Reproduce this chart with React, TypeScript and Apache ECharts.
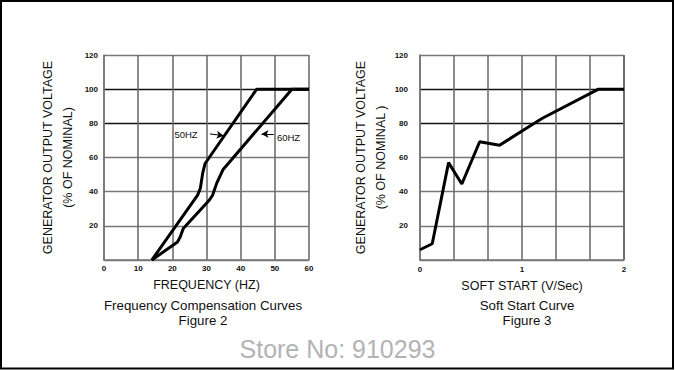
import React, { useEffect, useRef } from "react";
import * as echarts from "echarts";

// Figure 2: Frequency compensation curves (Hz, % of nominal)
const freq50: [number, number][] = [
  [14, 0], [27.4, 38], [28.2, 42], [28.9, 51], [29.6, 56.5], [30.8, 60], [44.7, 100], [60, 100],
];
const freq60: [number, number][] = [
  [14, 0], [21.5, 10.5], [22.3, 13.5], [23.2, 18.5], [30.8, 35], [31.8, 38], [33, 45], [34.8, 52.8], [55, 100], [60, 100],
];
// Figure 3: Soft start curve (V/Sec, % of nominal)
const softStart: [number, number][] = [
  [0, 6], [0.12, 9.5], [0.28, 57], [0.41, 44.5], [0.585, 69.2], [0.78, 67.2], [1.0, 75.5], [1.2, 83], [1.75, 100], [2, 100],
];
const yTicksMax = 120;
const freqMax = 60;
const softMax = 2;
const annot50 = { text: "50HZ", at: [24, 73.2], from: [31, 73.8], to: [35, 72.8] };
const annot60 = { text: "60HZ", at: [54, 71.6], from: [49.7, 73.8], to: [46.1, 73.8] };

const FONT = "'Liberation Sans', Arial, sans-serif";

export default function App() {
  const ref = useRef<HTMLDivElement>(null);
  useEffect(() => {
    document.body.style.margin = "0";
    if (!ref.current) return;
    const chart = echarts.init(ref.current, undefined, { renderer: "svg" });
    const hColors = ["#777", "#777", "#777", "#777", "#111", "#111", "#777"];
    const yAxisBase = (gridIndex: number, margin: number) => ({
      type: "value" as const,
      gridIndex,
      min: 0,
      max: yTicksMax,
      interval: 20,
      name: "GENERATOR OUTPUT VOLTAGE\n" + (gridIndex === 0 ? "(% OF NOMINAL)" : "(% OF NOMINAL )"),
      nameLocation: "middle" as const,
      nameRotate: 90,
      nameGap: 26,
      nameTextStyle: { fontFamily: FONT, fontSize: 12.5, color: "#111", lineHeight: 20 },
      axisLine: { show: true, lineStyle: { color: "#777", width: 1.5 } },
      axisTick: { show: false },
      axisLabel: {
        margin,
        fontFamily: FONT,
        fontSize: 8,
        fontWeight: "bold" as const,
        color: "#111",
        formatter: (v: number) => (v === 0 ? "" : String(v)),
      },
      splitLine: { show: true, lineStyle: { color: hColors, width: 1.4 } },
    });
    const xLabel = {
      fontFamily: FONT,
      fontSize: 8,
      fontWeight: "bold" as const,
      color: "#111",
    };
    chart.setOption({
      animation: false,
      backgroundColor: "#fff",
      grid: [
        { left: 104, width: 205, top: 55, height: 205 },
        { left: 420, width: 204, top: 55, height: 205 },
      ],
      xAxis: [
        {
          type: "value",
          gridIndex: 0,
          min: 0,
          max: freqMax,
          interval: 10,
          name: "FREQUENCY (HZ)",
          nameLocation: "middle",
          nameGap: 18,
          nameTextStyle: { fontFamily: FONT, fontSize: 12.5, color: "#111" },
          axisLine: { show: true, lineStyle: { color: "#777", width: 1.5 } },
          axisTick: { show: false },
          axisLabel: { ...xLabel, margin: 4 },
          splitLine: { show: true, lineStyle: { color: "#666", width: 1.5 } },
        },
        {
          type: "value",
          gridIndex: 1,
          min: 0,
          max: softMax,
          interval: 1 / 3,
          name: "SOFT START (V/Sec)",
          nameLocation: "middle",
          nameGap: 19,
          nameTextStyle: { fontFamily: FONT, fontSize: 12.5, color: "#111" },
          axisLine: { show: true, lineStyle: { color: "#777", width: 1.5 } },
          axisTick: { show: false },
          axisLabel: {
            ...xLabel,
            margin: 5,
            formatter: (v: number) => (Math.abs(v - Math.round(v)) < 1e-3 ? String(Math.round(v)) : ""),
          },
          splitLine: { show: true, lineStyle: { color: "#666", width: 1.5 } },
        },
      ],
      yAxis: [yAxisBase(0, 6), yAxisBase(1, 12)],
      series: [
        {
          type: "line",
          name: "50HZ",
          xAxisIndex: 0,
          yAxisIndex: 0,
          data: freq50,
          showSymbol: false,
          symbol: "none",
          lineStyle: { color: "#000", width: 3 },
          markLine: {
            silent: true,
            symbol: ["none", "arrow"],
            symbolSize: [6, 7],
            label: { show: false },
            lineStyle: { color: "#000", width: 1, type: "solid" },
            data: [[{ coord: annot50.from }, { coord: annot50.to }]],
          },
          markPoint: {
            silent: true,
            symbol: "rect",
            symbolSize: 1,
            itemStyle: { color: "transparent" },
            label: { show: true, position: "inside", fontFamily: FONT, fontSize: 9.5, color: "#111", formatter: annot50.text },
            data: [{ coord: annot50.at }],
          },
        },
        {
          type: "line",
          name: "60HZ",
          xAxisIndex: 0,
          yAxisIndex: 0,
          data: freq60,
          showSymbol: false,
          symbol: "none",
          lineStyle: { color: "#000", width: 3 },
          markLine: {
            silent: true,
            symbol: ["none", "arrow"],
            symbolSize: [6, 7],
            label: { show: false },
            lineStyle: { color: "#000", width: 1, type: "solid" },
            data: [[{ coord: annot60.from }, { coord: annot60.to }]],
          },
          markPoint: {
            silent: true,
            symbol: "rect",
            symbolSize: 1,
            itemStyle: { color: "transparent" },
            label: { show: true, position: "inside", fontFamily: FONT, fontSize: 9.5, color: "#111", formatter: annot60.text },
            data: [{ coord: annot60.at }],
          },
        },
        {
          type: "line",
          name: "Soft Start",
          xAxisIndex: 1,
          yAxisIndex: 1,
          data: softStart,
          showSymbol: false,
          symbol: "none",
          lineStyle: { color: "#000", width: 3 },
        },
      ],
      graphic: [
        {
          type: "rect",
          shape: { x: 1, y: 1, width: 672, height: 367.5 },
          style: { fill: "none", stroke: "#000", lineWidth: 2 },
          silent: true,
          z: 100,
        },
        {
          type: "text",
          x: 203,
          y: 305.5,
          style: { text: "Frequency Compensation Curves", font: `13.3px ${FONT}`, fill: "#111", align: "center", verticalAlign: "middle" },
        },
        {
          type: "text",
          x: 203,
          y: 320.5,
          style: { text: "Figure 2", font: `13.3px ${FONT}`, fill: "#111", align: "center", verticalAlign: "middle" },
        },
        {
          type: "text",
          x: 527,
          y: 305.5,
          style: { text: "Soft Start Curve", font: `13.3px ${FONT}`, fill: "#111", align: "center", verticalAlign: "middle" },
        },
        {
          type: "text",
          x: 527,
          y: 320.5,
          style: { text: "Figure 3", font: `13.3px ${FONT}`, fill: "#111", align: "center", verticalAlign: "middle" },
        },
        {
          type: "text",
          x: 337.5,
          y: 348.6,
          style: { text: "Store No: 910293", font: `25px ${FONT}`, fill: "#b3b3b3", align: "center", verticalAlign: "middle" },
        },
      ],
    });
    return () => chart.dispose();
  }, []);
  return <div ref={ref} style={{ width: 675, height: 370 }} />;
}
